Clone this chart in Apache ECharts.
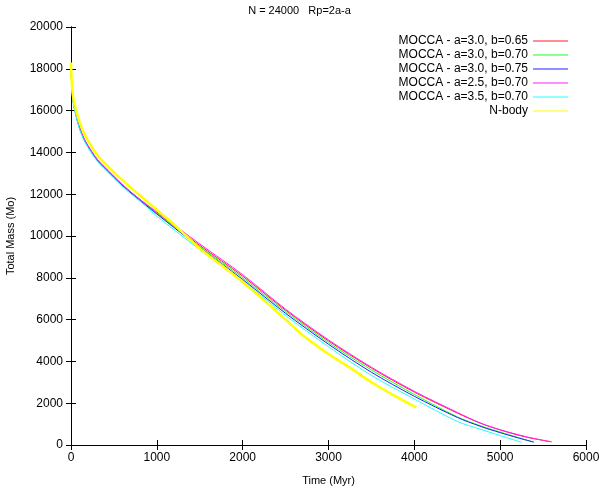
<!DOCTYPE html>
<html>
<head>
<meta charset="UTF-8"/>
<script src="https://cdn.jsdelivr.net/npm/echarts@6/dist/echarts.min.js"></script>
<style>
  html, body { margin: 0; background: #fff; }
  #c { width: 599px; height: 491px; }
</style>
</head>
<body>
<div id="c"></div>
<script>
// chart text
const title = "N = 24000   Rp=2a-a";
const xName = "Time (Myr)";
const yName = "Total Mass (Mo)";
const xTicks = [0, 1000, 2000, 3000, 4000, 5000, 6000];
const yTicks = [0, 2000, 4000, 6000, 8000, 10000, 12000, 14000, 16000, 18000, 20000];

// series names
const names = [
  "MOCCA - a=3.0, b=0.65",
  "MOCCA - a=3.0, b=0.70",
  "MOCCA - a=3.0, b=0.75",
  "MOCCA - a=2.5, b=0.70",
  "MOCCA - a=3.5, b=0.70",
  "N-body"
];
const colors = ["#ff2020", "#20ff20", "#2020ff", "#ff20ff", "#20ffff", "#ffff00"];

// shared early evolution (Myr, Mo)
const early = [[0, 18300], [10, 17200], [30, 16400], [60, 15850], [100, 15250], [160, 14650],
  [240, 14100], [320, 13650], [440, 13150], [550, 12700], [700, 12150], [820, 11750]];

// late evolution per model
const red = [[1000, 11100], [1500, 9550], [2000, 8080], [2500, 6450], [3000, 4980], [3500, 3680],
  [4000, 2530], [4500, 1530], [4765, 1050], [5000, 720], [5300, 380], [5600, 150]];
const green = [[1000, 11080], [1500, 9500], [2000, 8000], [2500, 6380], [3000, 4900], [3500, 3590],
  [4000, 2420], [4500, 1350], [4765, 930], [5000, 620], [5200, 370], [5390, 140]];
const blue = [[1000, 11050], [1500, 9450], [2000, 7920], [2500, 6300], [3000, 4820], [3500, 3480],
  [4000, 2330], [4500, 1320], [4765, 900], [5000, 590], [5200, 350], [5390, 140]];
const magenta = [[1000, 11150], [1500, 9620], [2000, 8150], [2500, 6500], [3000, 5030], [3500, 3720],
  [4000, 2570], [4500, 1560], [4765, 1060], [5000, 730], [5300, 400], [5580, 160]];
const cyan = [[1000, 10950], [1500, 9350], [2000, 7850], [2500, 6200], [3000, 4700], [3500, 3330],
  [4000, 2200], [4500, 1130], [4765, 760], [5000, 450], [5250, 130]];
const nbody = [[0, 18300], [10, 17300], [30, 16500], [60, 16000], [100, 15450], [160, 14850],
  [240, 14270], [320, 13800], [440, 13300], [550, 12850], [700, 12300], [820, 11880], [1000, 11250],
  [1200, 10550], [1500, 9400], [1800, 8450], [2000, 7800], [2200, 7100], [2500, 6000], [2700, 5250],
  [3000, 4350], [3250, 3700], [3500, 3000], [3750, 2400], [4020, 1800]];

const lines = [
  early.map(p => [p[0], p[1] - 60]).concat(red),
  early.map(p => [p[0], p[1] - 80]).concat(green),
  early.map(p => [p[0], p[1] - 100]).concat(blue),
  early.map(p => [p[0], p[1] - 50]).concat(magenta),
  early.map(p => [p[0], p[1] - 140]).concat(cyan),
  nbody
];

const font = "Liberation Sans, Arial, sans-serif";
const chart = echarts.init(document.getElementById("c"), null, { renderer: "canvas" });

const axisCommon = {
  axisLine: { show: true, lineStyle: { color: "#000", width: 1 } },
  axisTick: { show: true, inside: true, length: 5, lineStyle: { color: "#000" } },
  splitLine: { show: false }
};

chart.setOption({
  animation: false,
  backgroundColor: "#fff",
  title: {
    text: title, left: "center", top: 0,
    textStyle: { fontFamily: font, fontSize: 11, fontWeight: "normal", color: "#000" }
  },
  legend: {
    orient: "vertical", right: 26, top: 30, align: "right",
    itemWidth: 35, itemHeight: 10, itemGap: 2,
    textStyle: { fontFamily: font, fontSize: 12, color: "#000" },
    data: names.map((n, i) => ({
      name: n,
      icon: "path://M0,4.5L35,4.5L35,5.5L0,5.5Z",
      itemStyle: { color: colors[i] }
    }))
  },
  grid: { left: 71, right: 13, top: 27, bottom: 46, outerBoundsMode: "none" },
  xAxis: [
    Object.assign({}, axisCommon, {
      type: "value", min: 0, max: 6000, interval: 1000,
      name: xName, nameLocation: "middle", nameGap: 30,
      nameTextStyle: { fontFamily: font, fontSize: 11, color: "#000" },
      axisLabel: { fontFamily: font, fontSize: 12, color: "#000", margin: 7,
        formatter: v => xTicks.includes(v) ? String(v) : "" }
    }),
    Object.assign({}, axisCommon, {
      type: "value", position: "top", min: 0, max: 6000, interval: 1000,
      axisLabel: { show: false }
    })
  ],
  yAxis: [
    Object.assign({}, axisCommon, {
      type: "value", min: 0, max: 20000, interval: 2000,
      name: yName, nameLocation: "middle", nameGap: 55,
      nameTextStyle: { fontFamily: font, fontSize: 11, color: "#000" },
      axisLabel: { fontFamily: font, fontSize: 12, color: "#000", margin: 8,
        formatter: v => yTicks.includes(v) ? String(v) : "" }
    }),
    Object.assign({}, axisCommon, {
      type: "value", position: "right", min: 0, max: 20000, interval: 2000,
      axisLabel: { show: false }
    })
  ],
  series: names.map((n, i) => ({
    name: n,
    type: "line",
    data: lines[i],
    symbol: "none",
    smooth: 0.3,
    color: colors[i],
    lineStyle: { width: i === 5 ? 2.5 : 1, color: colors[i] }
  }))
});
</script>
</body>
</html>
